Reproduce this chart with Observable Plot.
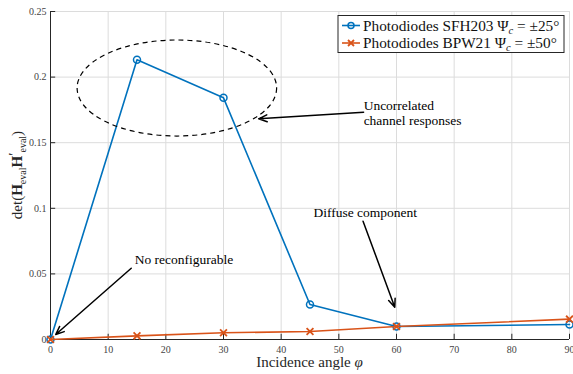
<!DOCTYPE html>
<html><head><meta charset="utf-8">
<script src="https://cdn.jsdelivr.net/npm/d3@7"></script>
<script src="https://cdn.jsdelivr.net/npm/@observablehq/plot@0.6"></script>
<style>body{margin:0;background:#fff}#chart{position:relative;width:573px;height:374px}</style>
</head><body><div id="chart"></div>
<script>
const angles = [0, 15, 30, 45, 60, 90];
const sfh203 = [0, 0.2132, 0.1842, 0.0267, 0.0099, 0.0114];
const bpw21 = [0, 0.0028, 0.0051, 0.0061, 0.0099, 0.0155];
const xTicks = [0, 10, 20, 30, 40, 50, 60, 70, 80, 90];
const yTicks = [0, 0.05, 0.1, 0.15, 0.2, 0.25];
const yTickLabels = ["0", "0.05", "0.1", "0.15", "0.2", "0.25"];
const seriesNames = ["Photodiodes SFH203", "Photodiodes BPW21"];
const seriesPsi = ["25", "50"];
const annotations = [
  {text: "No reconfigurable", x: 14.6, y: 0.0609, x1: 14.0, y1: 0.0543, x2: 0.9, y2: 0.0038},
  {text: "Diffuse component", x: 45.6, y: 0.0970, x1: 54.2, y1: 0.0902, x2: 59.7, y2: 0.0246},
  {text: "Uncorrelated", x: 54.3, y: 0.1780, x1: 54.3, y1: 0.1733, x2: 36.1, y2: 0.1682},
  {text: "channel responses", x: 54.3, y: 0.1665}
];
const ellipse = {cx: 22.0, cy: 0.1913, rx: 17.3, ry: 0.0366};

const blue = "#0072BD", orange = "#D95319";
const F = "'Liberation Serif', 'DejaVu Serif', serif";
const blueData = angles.map((a, i) => ({x: a, y: sfh203[i]}));
const orangeData = angles.map((a, i) => ({x: a, y: bpw21[i]}));
const arrows = annotations.filter(d => d.x1 !== undefined);

const plot = Plot.plot({
  width: 573, height: 374,
  marginLeft: 50, marginRight: 4, marginTop: 11, marginBottom: 35,
  x: {domain: [0, 90]},
  y: {domain: [0, 0.25]},
  style: {fontFamily: F, background: "white", overflow: "visible"},
  marks: [
    Plot.gridX(xTicks, {stroke: "#dcdcdc", strokeOpacity: 1, strokeWidth: 1}),
    Plot.gridY(yTicks, {stroke: "#dcdcdc", strokeOpacity: 1, strokeWidth: 1}),
    Plot.axisX({ticks: xTicks, tickSize: 0, tickPadding: 6, label: null, fontSize: 10, fill: "#444", tickFormat: d => String(d)}),
    Plot.axisY({ticks: yTicks, tickSize: 0, tickPadding: 4, label: null, fontSize: 10, fill: "#444", tickFormat: (d, i) => yTickLabels[i]}),
    Plot.ruleX(xTicks, {y1: 0, y2: 0.004, stroke: "#262626", strokeWidth: 1}),
    Plot.ruleY(yTicks, {x1: 0, x2: 0.9, stroke: "#262626", strokeWidth: 1}),
    Plot.ruleY([0], {stroke: "#262626", strokeWidth: 1}),
    Plot.ruleX([0], {stroke: "#262626", strokeWidth: 1}),
    Plot.line(blueData, {x: "x", y: "y", stroke: blue, strokeWidth: 1.6}),
    Plot.dot(blueData, {x: "x", y: "y", r: 3.5, stroke: blue, strokeWidth: 1.5, fill: "none"}),
    Plot.line(orangeData, {x: "x", y: "y", stroke: orange, strokeWidth: 1.6}),
    Plot.dot(orangeData, {x: "x", y: "y", symbol: "times", r: 3.2, stroke: orange, strokeWidth: 1.8}),
    Plot.arrow(arrows, {x1: "x1", y1: "y1", x2: "x2", y2: "y2", stroke: "black", strokeWidth: 1.5, headLength: 9, headAngle: 45}),
    Plot.text(annotations, {x: "x", y: "y", text: "text", textAnchor: "start", fontSize: 13.5, fill: "black", fontFamily: F})
  ]
});
document.getElementById("chart").appendChild(plot);

const sx = plot.scale("x"), sy = plot.scale("y");
const svg = d3.select(plot);
// ellipse annotation
svg.append("ellipse")
  .attr("cx", sx.apply(ellipse.cx)).attr("cy", sy.apply(ellipse.cy))
  .attr("rx", sx.apply(ellipse.cx + ellipse.rx) - sx.apply(ellipse.cx))
  .attr("ry", sy.apply(ellipse.cy) - sy.apply(ellipse.cy + ellipse.ry))
  .attr("fill", "none").attr("stroke", "black").attr("stroke-width", 1.2)
  .attr("stroke-dasharray", "5,4");

// x label
const [r0, r1] = sx.range;
svg.append("text").attr("x", (r0 + r1) / 2).attr("y", 367).attr("text-anchor", "middle")
  .attr("font-size", 15).attr("font-family", F).attr("fill", "#262626")
  .text("Incidence angle ").append("tspan").attr("font-style", "italic").text("φ");

// y label
const [yr0, yr1] = sy.range;
const yl = svg.append("text").attr("transform", `translate(22,${(yr0 + yr1) / 2}) rotate(-90)`)
  .attr("text-anchor", "middle").attr("font-size", 15).attr("font-family", F).attr("fill", "#262626");
yl.append("tspan").text("det(");
yl.append("tspan").attr("font-weight", "bold").text("H");
yl.append("tspan").attr("font-size", 10).attr("dy", 4).text("eval");
yl.append("tspan").attr("font-weight", "bold").attr("dy", -4).text("H");
yl.append("tspan").attr("dy", -3).text("′");
yl.append("tspan").attr("font-size", 10).attr("dy", 7).text("eval");
yl.append("tspan").attr("dy", -4).text(")");

// legend
const lg = svg.append("g").attr("transform", "translate(338,15.5)");
lg.append("rect").attr("width", 226).attr("height", 37).attr("fill", "white").attr("stroke", "#262626").attr("stroke-width", 1);
const colors = [blue, orange];
seriesNames.forEach((name, i) => {
  const y = 10 + i * 17.5;
  const g = lg.append("g").attr("transform", `translate(0,${y})`);
  g.append("line").attr("x1", 4).attr("x2", 22).attr("stroke", colors[i]).attr("stroke-width", 1.6);
  if (i === 0) g.append("circle").attr("cx", 13).attr("r", 3).attr("fill", "none").attr("stroke", blue).attr("stroke-width", 1.5);
  else g.append("path").attr("d", "M10,-3L16,3M10,3L16,-3").attr("stroke", orange).attr("stroke-width", 1.8);
  const t = g.append("text").attr("x", 25).attr("dy", "0.35em").attr("text-anchor", "start").attr("font-size", 15.3).attr("font-family", F).attr("fill", "#111");
  t.append("tspan").text(name + " Ψ");
  t.append("tspan").attr("font-size", 10.5).attr("font-style", "italic").attr("dy", 3).text("c");
  t.append("tspan").attr("dy", -3).text(" = ±" + seriesPsi[i] + "°");
});
</script></body></html>
